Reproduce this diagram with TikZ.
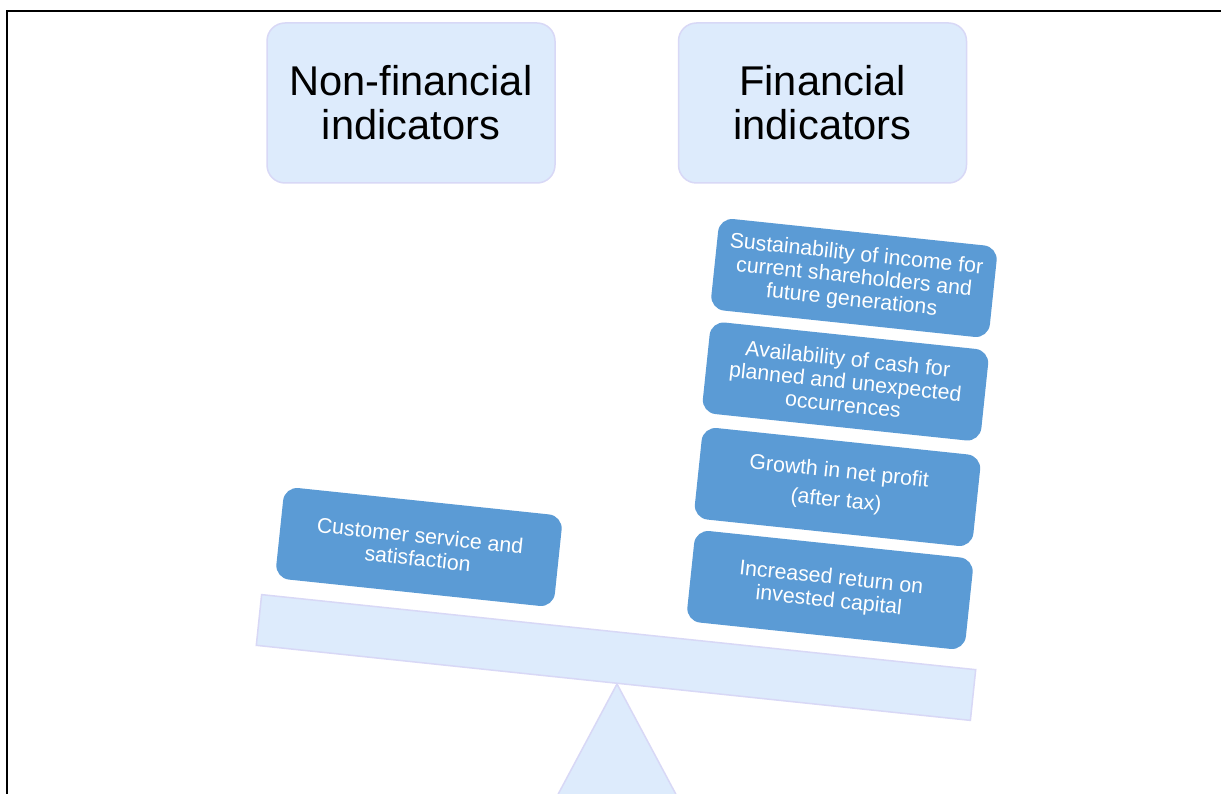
\documentclass[tikz,border=0pt]{standalone}
\usepackage{fontspec}
\setmainfont{Liberation Sans}
\definecolor{hdrfill}{HTML}{DDEBFC}
\definecolor{hdrline}{HTML}{D8D8F6}
\definecolor{boxblue}{HTML}{5B9BD5}
\begin{document}
\begin{tikzpicture}[x=1pt,y=1pt,
  header/.style={draw=hdrline, line width=1.5pt, fill=hdrfill, rounded corners=18pt,
    minimum width=288pt, minimum height=160pt, align=center, inner sep=0pt,
    font=\fontsize{41.6}{44}\selectfont, text=black},
  item/.style={fill=boxblue, rounded corners=14pt, minimum width=280pt, minimum height=92pt,
    align=center, text=white, inner sep=0pt, rotate=-6,
    font=\fontsize{21.3}{23}\selectfont},
  light/.style={draw=hdrline, line width=1.5pt, fill=hdrfill}]
\clip (0,0) rectangle (1221,-794);
\fill[white] (0,0) rectangle (1221,-794);
% frame
\draw[line width=1.2pt] (7,-830) -- (7,-11) -- (1230,-11);
% headers
\node[header] (nonfin) at (411,-103) {Non-financial\\indicators};
\node[header] (fin) at (822.5,-103) {Financial\\indicators};
% fulcrum
\coordinate (apex) at (617,-684);
\draw[light] (apex) -- (539,-830) -- (695,-830) -- cycle;
% beam
\node[light, rotate=-6, minimum width=718pt, minimum height=51pt, inner sep=0pt] (beam) at (616,-657.5) {};
% items
\node[item] (cust) at (419,-547) {Customer service and\\satisfaction};
\node[item] (sust) at (854,-278) {Sustainability of income for\\current shareholders and\\future generations};
\node[item] (cash) at (845.5,-381.5) {Availability of cash for\\planned and unexpected\\occurrences};
\node[item] (growth) at (837.5,-487) {Growth in net profit\\[6pt](after tax)};
\node[item] (roic) at (830,-590) {Increased return on\\invested capital};
\end{tikzpicture}
\end{document}
